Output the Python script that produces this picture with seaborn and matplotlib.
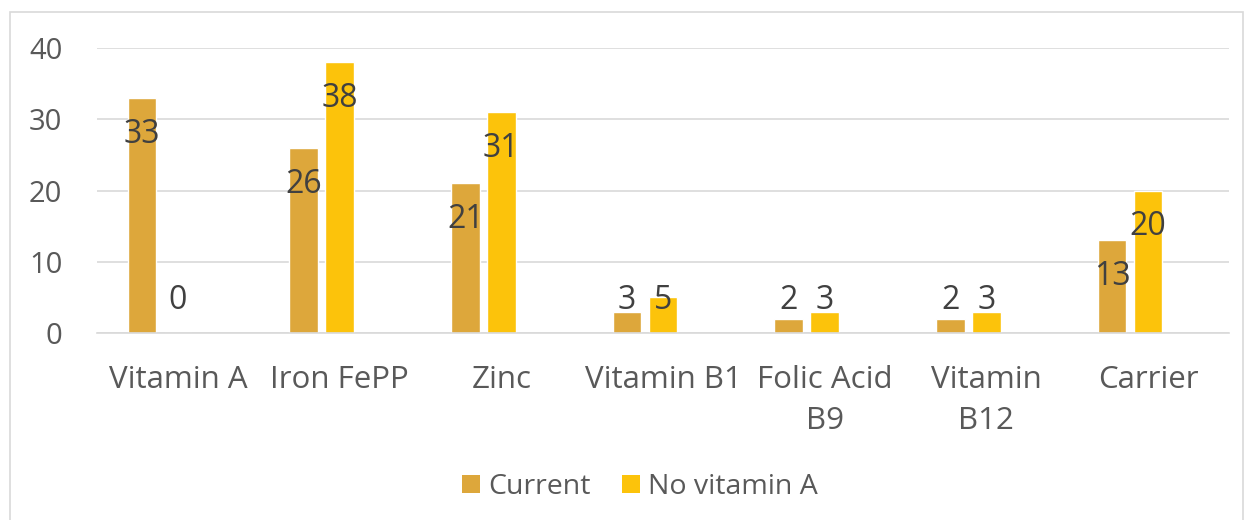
import numpy as np
import pandas as pd
import matplotlib
matplotlib.use("Agg")
import matplotlib.pyplot as plt
from matplotlib.patches import Patch, Rectangle
import seaborn as sns

# Datos del gráfico
categorias = ["Vitamin A", "Iron FePP", "Zinc", "Vitamin B1", "Folic Acid\nB9", "Vitamin\nB12", "Carrier"]
current = [33, 26, 21, 3, 2, 2, 13]
no_vitamin_a = [0, 38, 31, 5, 3, 3, 20]
series = ["Current", "No vitamin A", "_empty"]
colores = {"Current": "#DDA73B", "No vitamin A": "#FCC30B", "_empty": "#FFFFFF"}

# Tabla larga para seaborn (tercera serie vacía, como en el original)
df = pd.DataFrame({
    "categoria": categorias * 3,
    "valor": current + no_vitamin_a + [np.nan] * len(categorias),
    "serie": ["Current"] * 7 + ["No vitamin A"] * 7 + ["_empty"] * 7,
})

sns.set_style("white")
plt.rcParams["font.family"] = ["Open Sans", "DejaVu Sans"]

fig = plt.figure(figsize=(12.45, 5.2), dpi=100)
ax = fig.add_axes([97 / 1245, 1 - 333 / 520, (1229 - 97) / 1245, (333 - 48) / 520])

sns.barplot(data=df, x="categoria", y="valor", hue="serie", hue_order=series,
            order=categorias, palette=colores, saturation=1, width=0.668, gap=0.21,
            errorbar=None, legend=False, ax=ax)

ax.set_ylim(0, 40)
ax.set_yticks([0, 10, 20, 30, 40])
ax.set_xlim(-0.5, len(categorias) - 0.5)
ax.yaxis.grid(True, color="#D9D9D9", linewidth=1.2)
ax.set_axisbelow(True)
for lado in ["top", "right", "left"]:
    ax.spines[lado].set_visible(False)
ax.spines["bottom"].set_color("#D9D9D9")
ax.spines["bottom"].set_linewidth(1.2)
ax.tick_params(axis="y", length=0, pad=25, labelsize=21, labelcolor="#595959")
ax.tick_params(axis="x", length=0, pad=23, labelsize=22.5, labelcolor="#595959")
for t in ax.get_xticklabels():
    t.set_linespacing(1.5)
ax.set_xlabel("")
ax.set_ylabel("")

# Etiquetas de datos (dentro del extremo)
for cont in ax.containers[:2]:
    for barra in cont:
        h = barra.get_height()
        if np.isnan(h):
            continue
        y = max(h - 5.1, 4.6)
        ax.text(barra.get_x() + barra.get_width() / 2, y, f"{int(h)}",
                ha="center", va="center", fontsize=23, color="#404040")

# Leyenda
handles = [Patch(facecolor=colores[s], edgecolor="none") for s in series[:2]]
fig.legend(handles, series[:2], loc="center", bbox_to_anchor=(640 / 1245, 1 - 487 / 520),
           ncol=2, frameon=False, fontsize=20.5, labelcolor="#595959",
           handlelength=0.62, handleheight=0.62, handletextpad=0.3, columnspacing=1.1)

# Borde del área del gráfico
fig.patches.append(Rectangle((9.5 / 1245, -0.1), 1233 / 1245, 1.1 - 12.5 / 520,
                             transform=fig.transFigure, fill=False,
                             edgecolor="#D9D9D9", linewidth=1.2))

fig.savefig("out.png", dpi=100)
plt.close(fig)
